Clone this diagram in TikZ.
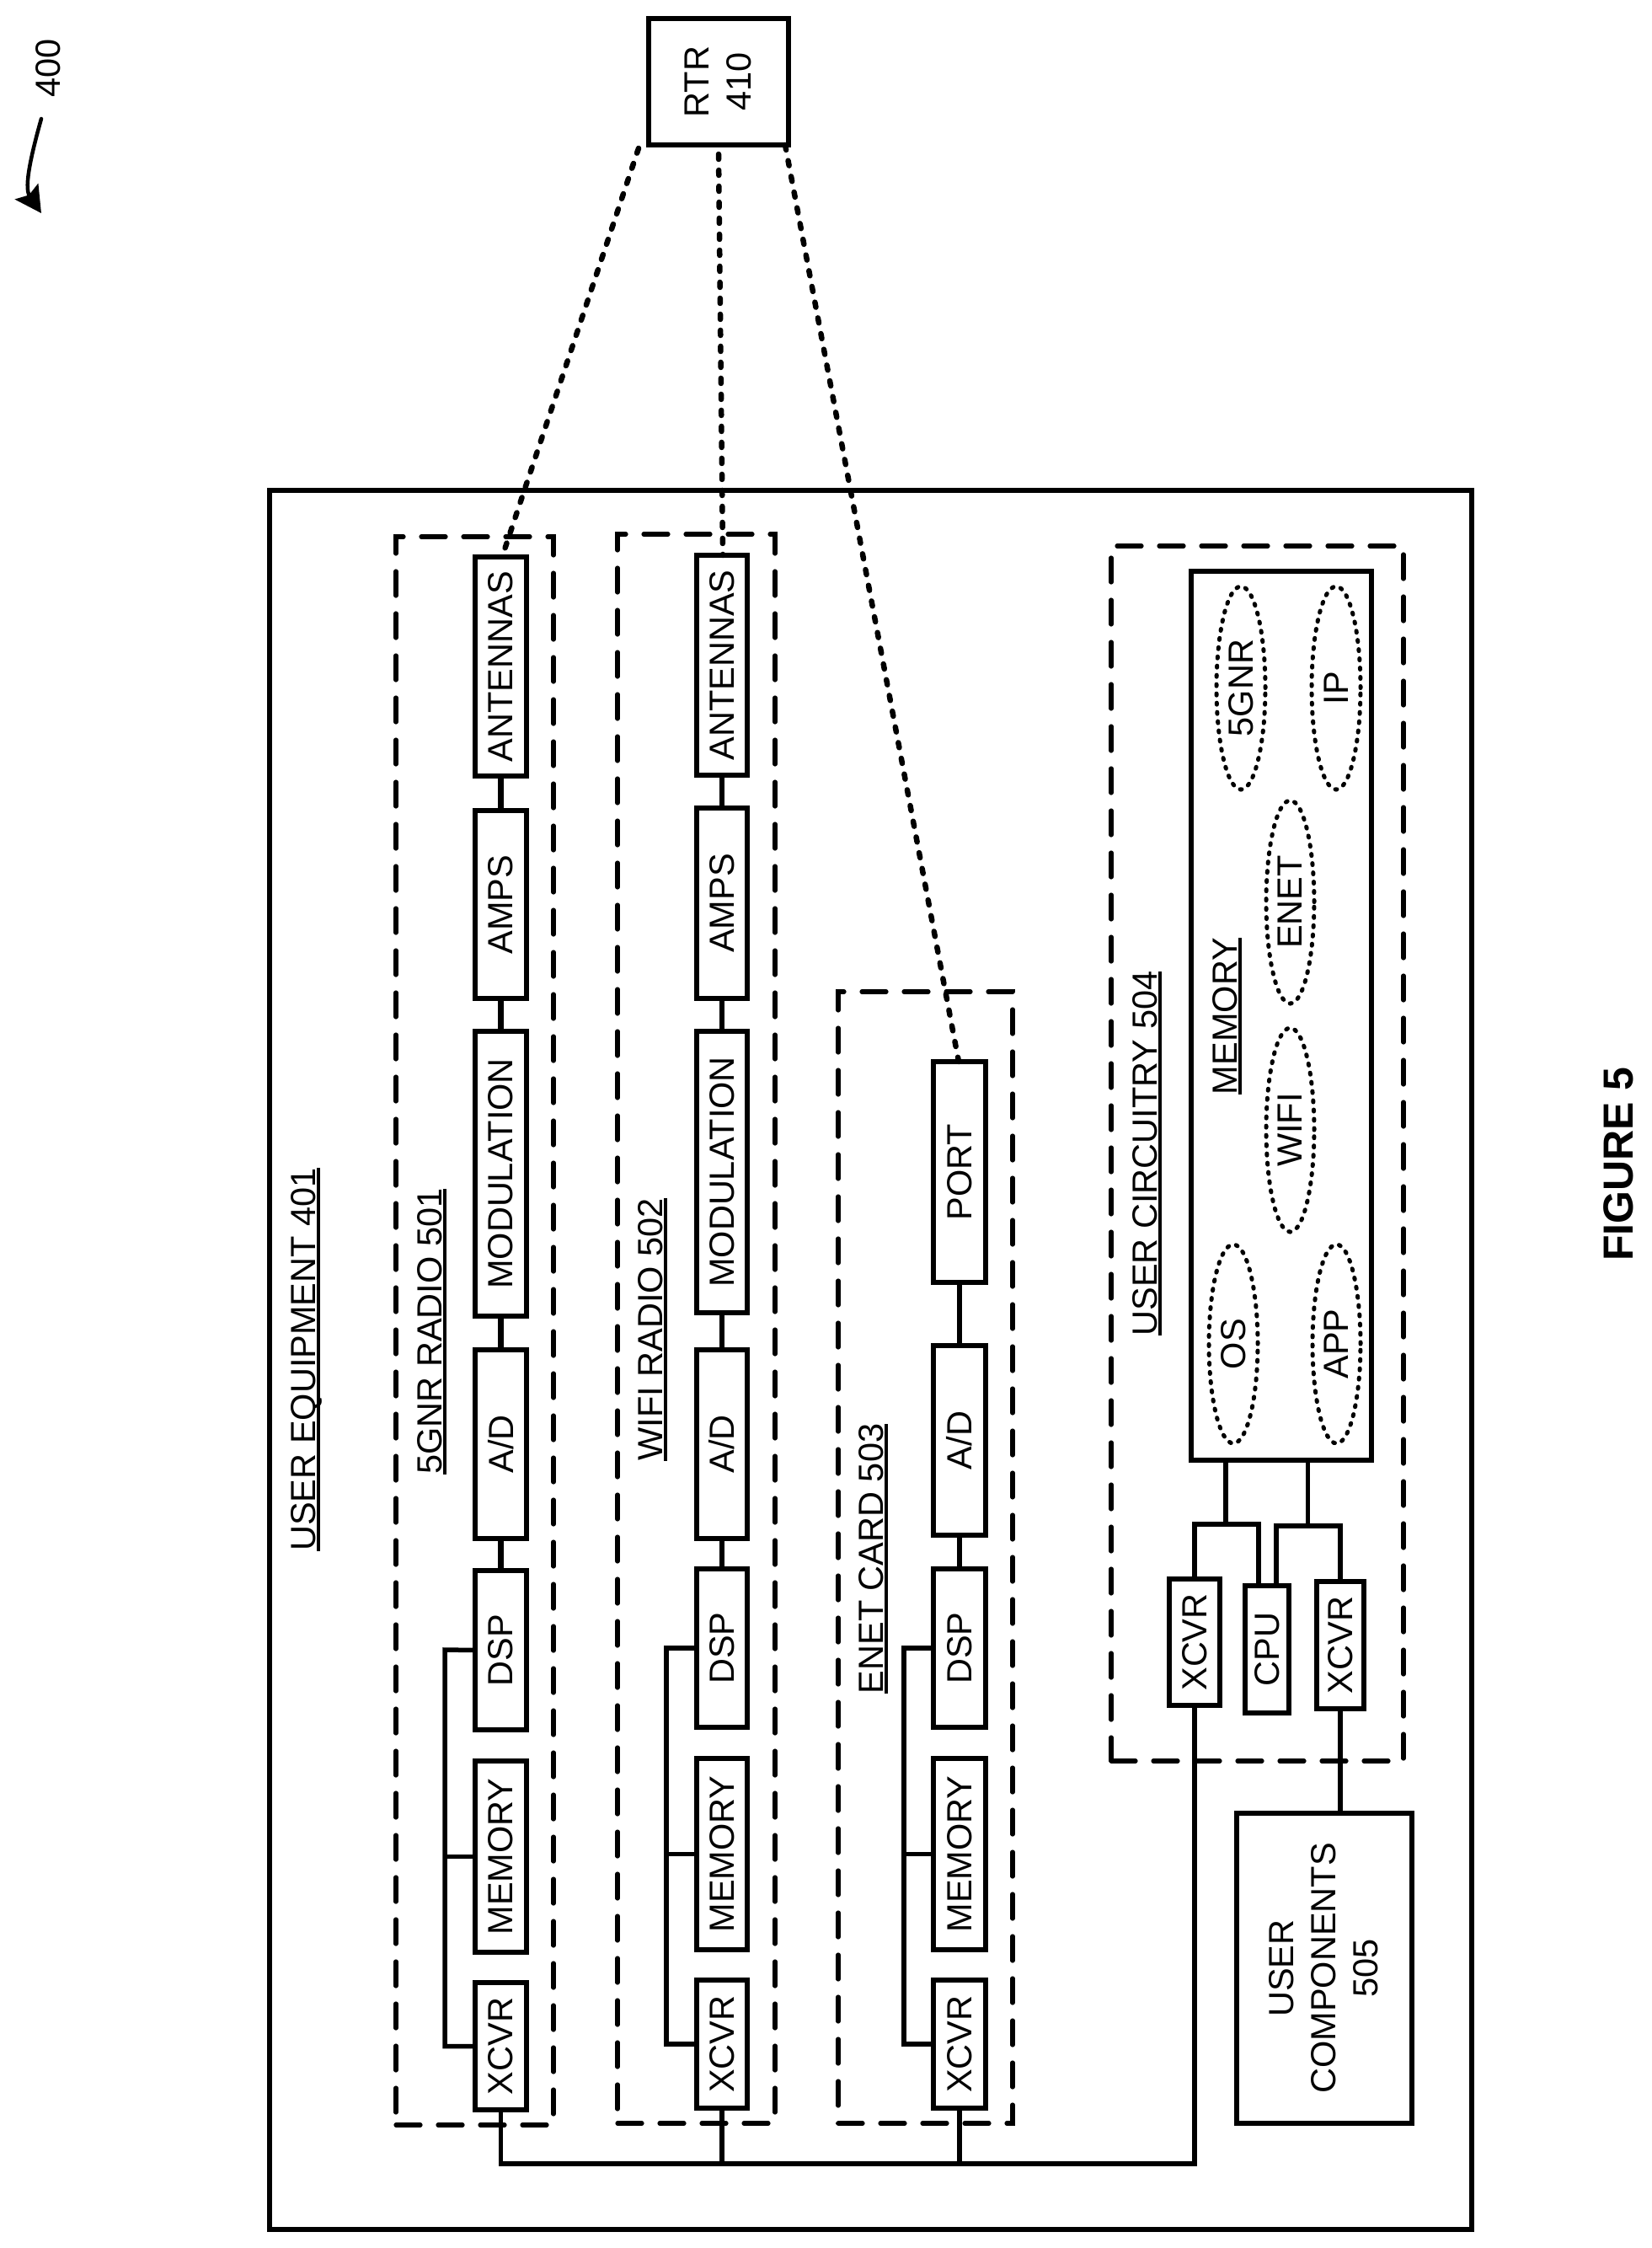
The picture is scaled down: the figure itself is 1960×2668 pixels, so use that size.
\documentclass[tikz,border=0pt]{standalone}
\usepackage{fontspec}
\setmainfont{Liberation Sans}
\usetikzlibrary{shapes.geometric,arrows.meta}
\newcommand\rt[1]{\rotatebox{90}{#1}}
\newcommand\ulb[1]{\rt{\vtop{\hbox{\raisebox{0pt}[\height][0pt]{#1}}\kern1.5pt\hrule height 4pt}}}
\newcommand\tlines[1]{\hspace{6pt}\rt{\begin{tabular}{@{}c@{}}#1\end{tabular}}}
\tikzset{
  lbl/.style={inner sep=0pt,outer sep=0pt,font=\fontsize{41.5}{50}\selectfont},
  solidbox/.style={lbl,draw,rectangle,line width=5.5pt},
  dashbox/.style={draw,rectangle,inner sep=0pt,outer sep=0pt,line width=5.2pt,line cap=round,dash pattern=on 29pt off 21pt},
  oval/.style={lbl,draw,ellipse,line width=5pt,line cap=round,dash pattern=on 2pt off 9pt},
  wire/.style={line width=5.5pt},
  heavy/.style={line width=6.5pt},
  link/.style={line width=6.5pt,line cap=round,dash pattern=on 6pt off 13pt},
}
\newcommand\rbox[6]{\node[solidbox,minimum width={#4-#2},minimum height={#5-#3}] (#1) at ({(#2+#4)/2},{(#3+#5)/2}) {\rt{#6}};}
\newcommand\dbox[5]{\node[dashbox,minimum width={#4-#2},minimum height={#5-#3}] (#1) at ({(#2+#4)/2},{(#3+#5)/2}) {};}
\newcommand\obox[6]{\node[oval,minimum width={#4-#2},minimum height={#5-#3}] (#1) at ({(#2+#4)/2},{(#3+#5)/2}) {\rt{#6}};}
\begin{document}
\begin{tikzpicture}[x=1pt,y=-1pt]
\useasboundingbox (0,0) rectangle (1960,2668);
% outer
\node[solidbox,minimum width=1427,minimum height=2064] (ue) at (1033.5,1614) {};
\node[solidbox,minimum width=166,minimum height=150] (rtr) at (853,97) {\tlines{RTR\\410}};
% labels
\node[lbl] (n400) at (57,81) {\rt{400}};
\node[lbl] (fig) at (1921.5,1381.5) {\rt{\fontsize{50}{60}\selectfont\bfseries FIGURE 5}};
\node[lbl] (tue) at (363,1613.5) {\ulb{USER EQUIPMENT 401}};
\node[lbl] (t1) at (513,1580) {\ulb{5GNR RADIO 501}};
\node[lbl] (t2) at (775,1578) {\ulb{WIFI RADIO 502}};
\node[lbl] (t3) at (1036.5,1850) {\ulb{ENET CARD 503}};
\node[lbl] (t4) at (1361.5,1369) {\ulb{USER CIRCUITRY 504}};
\node[lbl] (t5) at (1457,1206) {\ulb{MEMORY}};
% dashed groups
\dbox{g1}{470}{637}{657}{2522}
\dbox{g2}{733}{634}{920}{2520}
\dbox{g3}{995}{1177}{1202}{2520}
\dbox{g4}{1319}{648}{1666}{2090}
% row 1
\rbox{a1}{564}{661}{625}{921}{ANTENNAS}
\rbox{b1}{564}{962}{625}{1185}{AMPS}
\rbox{c1}{564}{1224}{625}{1562}{MODULATION}
\rbox{e1}{564}{1602}{625}{1826}{A/D}
\rbox{d1}{564}{1864}{625}{2053}{DSP}
\rbox{m1}{564}{2090}{625}{2317}{MEMORY}
\rbox{x1}{564}{2353}{625}{2504}{XCVR}
% row 2
\rbox{a2}{827}{659}{887}{920}{ANTENNAS}
\rbox{b2}{827}{959}{887}{1185}{AMPS}
\rbox{c2}{827}{1224}{887}{1558}{MODULATION}
\rbox{e2}{827}{1602}{887}{1826}{A/D}
\rbox{d2}{827}{1862}{887}{2050}{DSP}
\rbox{m2}{827}{2087}{887}{2314}{MEMORY}
\rbox{x2}{827}{2350}{887}{2502}{XCVR}
% row 3
\rbox{p3}{1108}{1260}{1170}{1522}{PORT}
\rbox{e3}{1108}{1597}{1170}{1822}{A/D}
\rbox{d3}{1108}{1862}{1170}{2050}{DSP}
\rbox{m3}{1108}{2087}{1170}{2314}{MEMORY}
\rbox{x3}{1108}{2350}{1170}{2502}{XCVR}
% circuitry
\rbox{mb}{1414}{678}{1628}{1733}{}
\rbox{xa}{1388}{1874}{1448}{2024}{XCVR}
\rbox{cpu}{1478}{1882}{1530}{2033}{CPU}
\rbox{xb}{1563}{1877}{1619}{2028}{XCVR}
\node[solidbox,minimum width=208,minimum height=368] (uc) at (1572,2336) {\tlines{USER\\COMPONENTS\\505}};
% ovals
\obox{o1}{1444}{696}{1502}{937}{5GNR}
\obox{o2}{1557}{696}{1615}{937}{IP}
\obox{o3}{1503}{950}{1560}{1191}{ENET}
\obox{o4}{1503}{1220}{1560}{1462}{WIFI}
\obox{o5}{1435}{1477}{1493}{1713}{OS}
\obox{o6}{1558}{1477}{1615}{1713}{APP}
% chain wires
\foreach \r/\w in {1/heavy,2/wire}{
  \draw[\w] (a\r.south) -- (b\r.north);
  \draw[\w] (b\r.south) -- (c\r.north);
  \draw[\w] (c\r.south) -- (e\r.north);
  \draw[\w] (e\r.south) -- (d\r.north);
}
\draw[wire] (p3.south) -- (e3.north);
\draw[wire] (e3.south) -- (d3.north);
% side buses
\coordinate (s1) at (528,1958);
\coordinate (s2) at (791,1956);
\coordinate (s3) at (1073,1956);
\foreach \r in {1,2,3}{
  \draw[wire] (d\r.west) -- (s\r) |- (x\r.west);
  \draw[wire] (m\r.west) -- (m\r.west -| s\r);
}
% main bus
\coordinate (busR) at (1418,2568);
\draw[wire] (x1.south) |- (busR) -- (xa.south);
\draw[wire] (x2.south) -- (x2.south |- busR);
\draw[wire] (x3.south) -- (x3.south |- busR);
\draw[wire] (xb.south) -- (uc.north -| xb.south);
% memory links
\coordinate (j1) at (1455,1809);
\coordinate (j2) at (1552.5,1811);
\coordinate (cA) at (1494,1882);
\coordinate (cB) at (1515,1882);
\draw[wire] (mb.south -| j1) -- (j1);
\draw[wire] (mb.south -| j2) -- (j2);
\draw[wire] (xa.north) |- (j1) -| (cA);
\draw[wire] (cB) |- (j2) -| (xb.north);
% RTR links
\coordinate (ra) at (758,176);
\coordinate (rb) at (853,183);
\coordinate (rc) at (932,172);
\coordinate (ta) at (596,661);
\coordinate (tb) at (858,659);
\coordinate (tc) at (1138,1260);
\draw[link] (ra) -- (ta);
\draw[link] (rb) -- (tb);
\draw[link] (rc) -- (tc);
% reference arrow
\coordinate (ar0) at (49,141);
\coordinate (ar1) at (49,253);
\draw[line width=4.5pt,line cap=round,-{Stealth[length=31pt,width=33pt,inset=5pt]}] (ar0) .. controls (38,180) and (28,222) .. (ar1);
\end{tikzpicture}
\end{document}
